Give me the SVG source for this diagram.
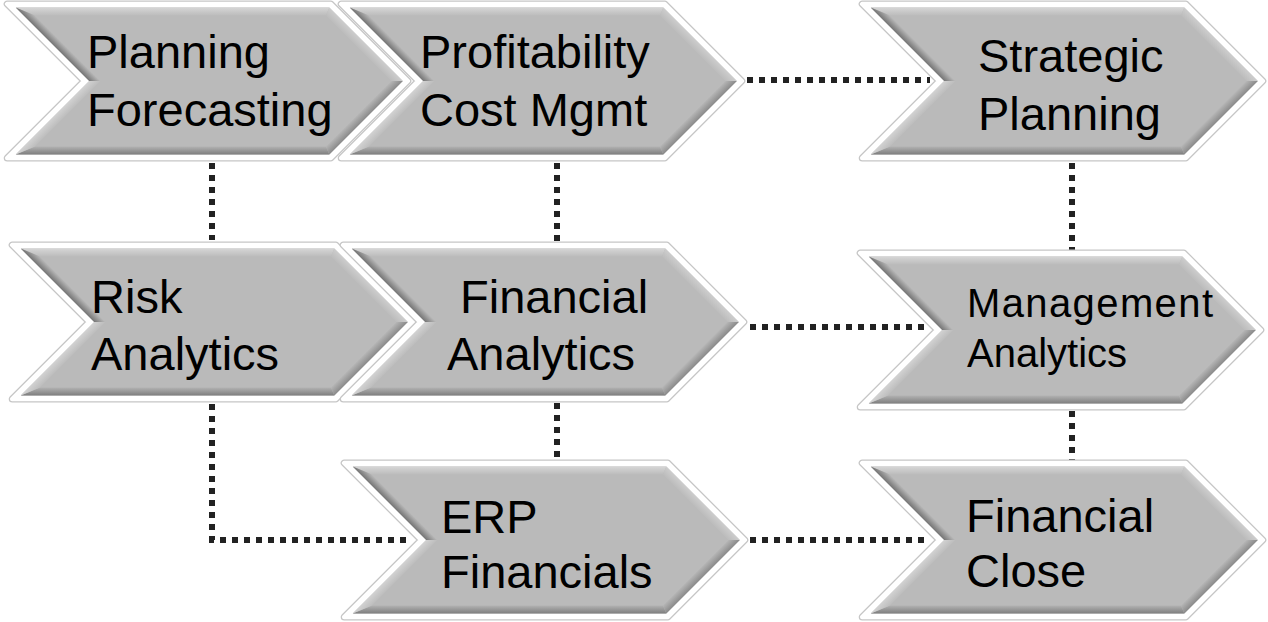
<svg xmlns="http://www.w3.org/2000/svg" xmlns:xlink="http://www.w3.org/1999/xlink" width="1268" height="622" viewBox="0 0 1268 622">
<style>
.ob{fill:#c6c6c6;stroke:#c6c6c6;stroke-width:7;stroke-linejoin:round}
.ow{fill:#ffffff;stroke:#ffffff;stroke-width:4.5;stroke-linejoin:round}
.lbl{font-family:"Liberation Sans",Arial,sans-serif;font-size:47px;fill:#000}
.sm{font-size:40px}
.con{fill:none;stroke:#222;stroke-width:6;stroke-dasharray:6 6}
</style>
<defs>
<linearGradient id="gTop" gradientUnits="userSpaceOnUse" x1="0" y1="6.5" x2="0" y2="14.5"><stop offset="0" stop-color="#d6d6d6"/><stop offset="1" stop-color="#bcbcbc"/></linearGradient>
<linearGradient id="gBot" gradientUnits="userSpaceOnUse" x1="0" y1="145.5" x2="0" y2="153.5"><stop offset="0" stop-color="#b2b2b2"/><stop offset="1" stop-color="#7e7e7e"/></linearGradient>
<linearGradient id="gUL" gradientUnits="userSpaceOnUse" x1="49.2" y1="40" x2="54.86" y2="34.34"><stop offset="0" stop-color="#747474"/><stop offset="1" stop-color="#bababa"/></linearGradient>
<linearGradient id="gLL" gradientUnits="userSpaceOnUse" x1="49.2" y1="120" x2="54.86" y2="125.66"><stop offset="0" stop-color="#d2d2d2"/><stop offset="1" stop-color="#bdbdbd"/></linearGradient>
<linearGradient id="gUR" gradientUnits="userSpaceOnUse" x1="362.8" y1="40" x2="357.14" y2="45.66"><stop offset="0" stop-color="#cdcdcd"/><stop offset="1" stop-color="#bcbcbc"/></linearGradient>
<linearGradient id="gLR" gradientUnits="userSpaceOnUse" x1="362.8" y1="120" x2="357.14" y2="114.34"><stop offset="0" stop-color="#8a8a8a"/><stop offset="1" stop-color="#b6b6b6"/></linearGradient>
<symbol id="chev" overflow="visible">
<polygon class="ob" points="7.2,3 330.8,3 407.8,80 330.8,157 7.2,157 84.2,80"/>
<polygon class="ow" points="7.2,3 330.8,3 407.8,80 330.8,157 7.2,157 84.2,80"/>
<polygon fill="#bababa" points="15.7,6.5 329.3,6.5 402.8,80 329.3,153.5 15.7,153.5 89.2,80"/>
<polygon fill="url(#gTop)" points="15.7,6.5 329.3,6.5 326,14.5 35,14.5"/>
<polygon fill="url(#gUR)" points="329.3,6.5 402.8,80 391.5,80 326,14.5"/>
<polygon fill="url(#gLR)" points="402.8,80 329.3,153.5 326,145.5 391.5,80"/>
<polygon fill="url(#gBot)" points="329.3,153.5 15.7,153.5 35,145.5 326,145.5"/>
<polygon fill="url(#gLL)" points="15.7,153.5 89.2,80 100.5,80 35,145.5"/>
<polygon fill="url(#gUL)" points="89.2,80 15.7,6.5 35,14.5 100.5,80"/>
</symbol>
</defs>
<rect width="1268" height="622" fill="#ffffff"/>
<g id="connectors">
<path class="con" d="M212,163 V240"/>
<path class="con" d="M557,163 V241"/>
<path class="con" d="M1072,163 V250"/>
<path class="con" d="M747,80 H930"/>
<path class="con" d="M750,327 H925"/>
<path class="con" d="M557,403 V460"/>
<path class="con" d="M1072,411 V460"/>
<path class="con" d="M212,404 V540 H412"/>
<path class="con" d="M750,540 H930"/>
</g>
<g id="planning-forecasting">
<use xlink:href="#chev" x="0" y="1"/>
<text class="lbl" x="87" y="68">Planning</text>
<text class="lbl" x="87" y="126">Forecasting</text>
</g>
<g id="profitability-cost-mgmt">
<use xlink:href="#chev" x="334" y="1"/>
<text class="lbl" x="420" y="68">Profitability</text>
<text class="lbl" x="420" y="126">Cost Mgmt</text>
</g>
<g id="strategic-planning">
<use xlink:href="#chev" x="855" y="1"/>
<text class="lbl" x="978" y="72">Strategic</text>
<text class="lbl" x="978" y="130">Planning</text>
</g>
<g id="risk-analytics">
<use xlink:href="#chev" x="5" y="242"/>
<text class="lbl" x="91" y="313">Risk</text>
<text class="lbl" x="91" y="370">Analytics</text>
</g>
<g id="financial-analytics">
<use xlink:href="#chev" x="336" y="242"/>
<text class="lbl" x="460" y="313">Financial</text>
<text class="lbl" x="447" y="370">Analytics</text>
</g>
<g id="management-analytics">
<use xlink:href="#chev" x="853" y="250"/>
<text class="lbl sm" x="967" y="317" textLength="246" lengthAdjust="spacing">Management</text>
<text class="lbl sm" x="967" y="367">Analytics</text>
</g>
<g id="erp-financials">
<use xlink:href="#chev" x="337" y="460"/>
<text class="lbl" x="441" y="533">ERP</text>
<text class="lbl" x="441" y="588">Financials</text>
</g>
<g id="financial-close">
<use xlink:href="#chev" x="855" y="460"/>
<text class="lbl" x="966" y="532">Financial</text>
<text class="lbl" x="966" y="587">Close</text>
</g>
</svg>
